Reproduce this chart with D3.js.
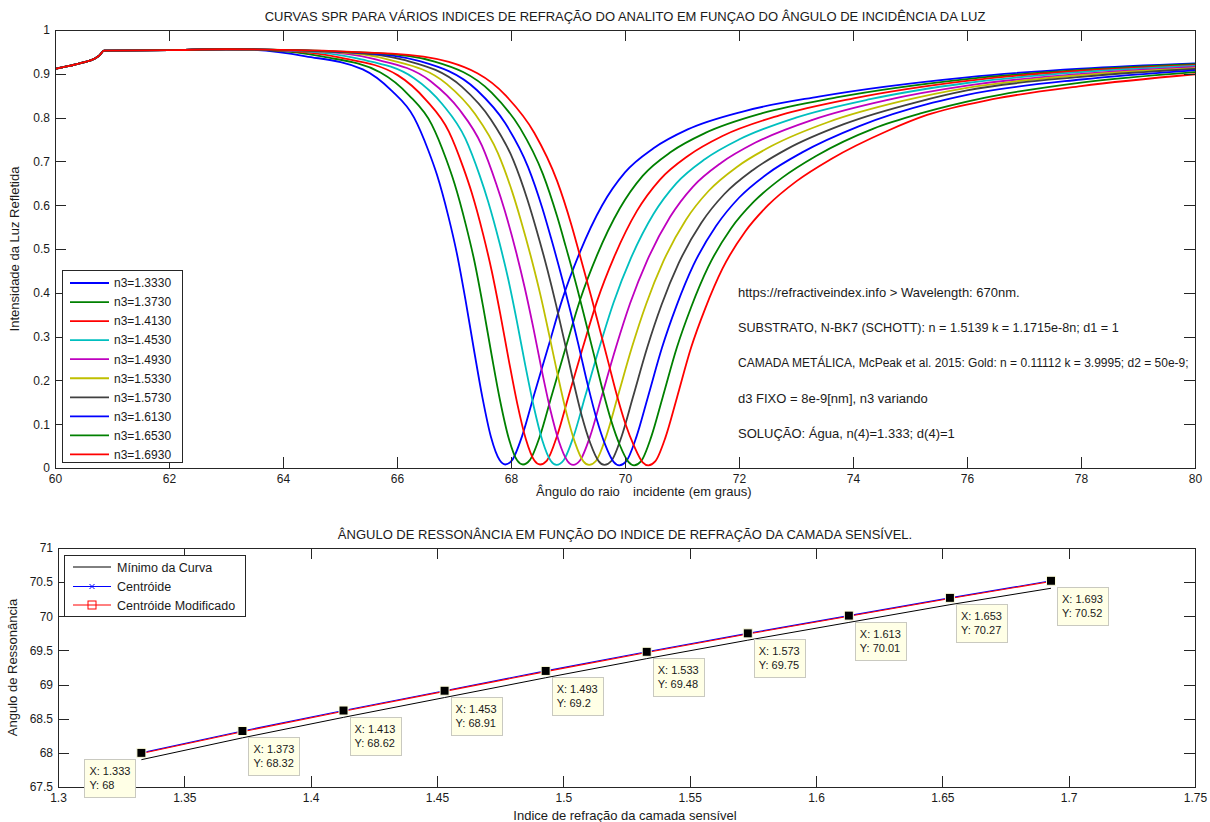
<!DOCTYPE html>
<html><head><meta charset="utf-8">
<script src="https://cdn.jsdelivr.net/npm/d3@7"></script>
<style>
html,body{margin:0;padding:0;background:#fff;}
svg{display:block;font-family:"Liberation Sans",Arial,Helvetica,sans-serif;}
text{fill:#1a1a1a;}
</style></head>
<body>
<svg id="chart" width="1210" height="822"></svg>
<script>
// ---------------- DATA ----------------
const n3Labels = ["n3=1.3330","n3=1.3730","n3=1.4130","n3=1.4530","n3=1.4930","n3=1.5330","n3=1.5730","n3=1.6130","n3=1.6530","n3=1.6930"];
const curveColors = ["#0000ff","#008000","#ff0000","#00bfbf","#bf00bf","#bfbf00","#404040","#0000ff","#008000","#ff0000"];

const xTicksTop = [60,62,64,66,68,70,72,74,76,78,80];
const yTicksTop = [0,0.1,0.2,0.3,0.4,0.5,0.6,0.7,0.8,0.9,1];

// shared start of every curve (below / at the critical angle)
const plateauAngles = [60, 60.25, 60.5, 60.7, 60.78, 60.86, 62, 63];
const plateauRefl   = [0.911, 0.918, 0.926, 0.935, 0.942, 0.953, 0.954, 0.956];

const angles1333 = [63.4,64.4,65.4,65.9,66.3,66.55,66.7,66.9,67.05,67.2,67.35,67.5,67.65,67.8,67.9,68.02,68.2,68.4,68.65,68.9,69.2,69.6,70.0,70.5,71.1,72.1,73.4,76,78,80];
const refl1333   = [.955,.940,.910,.862,.800,.725,.670,.575,.490,.385,.270,.160,.070,.018,.008,.018,.075,.165,.275,.385,.490,.600,.675,.730,.773,.815,.848,.892,.912,.924];
const angles1373 = [63.71,64.71,65.71,66.21,66.61,66.86,67.01,67.21,67.36,67.51,67.66,67.81,67.96,68.11,68.21,68.33,68.51,68.71,68.96,69.21,69.51,69.91,70.31,70.81,71.41,72.41,73.71,76,78,80];
const refl1373   = [.954,.939,.903,.851,.784,.706,.649,.554,.471,.369,.258,.153,.068,.017,.008,.018,.074,.164,.275,.383,.486,.593,.667,.722,.765,.810,.846,.888,.909,.922];
const angles1413 = [64.01,65.01,66.01,66.51,66.91,67.16,67.31,67.51,67.66,67.81,67.96,68.11,68.26,68.41,68.51,68.63,68.81,69.01,69.26,69.51,69.81,70.21,70.61,71.11,71.71,72.71,74.01,76,78,80];
const refl1413   = [.953,.937,.897,.840,.768,.687,.629,.534,.451,.353,.247,.147,.066,.017,.008,.017,.074,.164,.275,.381,.482,.587,.658,.713,.758,.805,.844,.884,.907,.920];
const angles1453 = [64.3,65.3,66.3,66.8,67.2,67.45,67.6,67.8,67.95,68.1,68.25,68.4,68.55,68.7,68.8,68.92,69.1,69.3,69.55,69.8,70.1,70.5,70.9,71.4,72.0,73.0,74.3,76,78,80];
const refl1453   = [.952,.935,.890,.830,.752,.668,.608,.513,.432,.337,.235,.140,.063,.016,.007,.017,.073,.163,.275,.378,.478,.580,.650,.705,.750,.800,.842,.879,.904,.918];
const angles1493 = [64.59,65.59,66.59,67.09,67.49,67.74,67.89,68.09,68.24,68.39,68.54,68.69,68.84,68.99,69.09,69.21,69.39,69.59,69.84,70.09,70.39,70.79,71.19,71.69,72.29,73.29,74.59,76,78,80];
const refl1493   = [.951,.934,.883,.819,.736,.649,.588,.493,.412,.321,.223,.133,.061,.016,.007,.017,.073,.163,.275,.376,.474,.573,.642,.697,.743,.795,.840,.873,.900,.916];
const angles1533 = [64.87,65.87,66.87,67.37,67.77,68.02,68.17,68.37,68.52,68.67,68.82,68.97,69.12,69.27,69.37,69.49,69.67,69.87,70.12,70.37,70.67,71.07,71.47,71.97,72.57,73.57,74.87,76,78,80];
const refl1533   = [.950,.932,.877,.808,.719,.631,.567,.472,.393,.304,.212,.127,.059,.015,.007,.016,.072,.162,.275,.374,.471,.567,.633,.688,.735,.790,.838,.868,.897,.913];
const angles1573 = [65.14,66.14,67.14,67.64,68.04,68.29,68.44,68.64,68.79,68.94,69.09,69.24,69.39,69.54,69.64,69.76,69.94,70.14,70.39,70.64,70.94,71.34,71.74,72.24,72.84,73.84,75.14,76,78,80];
const refl1573   = [.949,.931,.870,.797,.703,.612,.547,.452,.373,.288,.200,.120,.057,.015,.007,.016,.072,.162,.275,.372,.467,.560,.625,.680,.728,.785,.836,.862,.893,.911];
const angles1613 = [65.4,66.4,67.4,67.9,68.3,68.55,68.7,68.9,69.05,69.2,69.35,69.5,69.65,69.8,69.9,70.02,70.2,70.4,70.65,70.9,71.2,71.6,72.0,72.5,73.1,74.1,75.4,76,78,80];
const refl1613   = [.948,.929,.863,.787,.687,.593,.526,.431,.354,.272,.188,.113,.054,.014,.006,.015,.071,.161,.275,.369,.463,.553,.617,.672,.720,.780,.834,.852,.887,.908];
const angles1653 = [65.66,66.66,67.66,68.16,68.56,68.81,68.96,69.16,69.31,69.46,69.61,69.76,69.91,70.06,70.16,70.28,70.46,70.66,70.91,71.16,71.46,71.86,72.26,72.76,73.36,74.36,75.2,76.3,78,80];
const refl1653   = [.947,.928,.857,.776,.671,.574,.506,.411,.334,.256,.177,.107,.052,.014,.006,.015,.071,.161,.275,.367,.459,.547,.608,.663,.713,.775,.810,.845,.880,.904];
const angles1693 = [65.91,66.91,67.91,68.41,68.81,69.06,69.21,69.41,69.56,69.71,69.86,70.01,70.16,70.31,70.41,70.53,70.71,70.91,71.16,71.41,71.71,72.11,72.51,73.01,73.61,74.61,75.3,76.45,78,80];
const refl1693   = [.946,.927,.850,.765,.655,.555,.485,.390,.315,.240,.165,.100,.050,.013,.006,.015,.070,.160,.275,.365,.455,.540,.600,.655,.705,.770,.806,.842,.872,.899];

const annotations = [
  "https://refractiveindex.info > Wavelength: 670nm.",
  "SUBSTRATO, N-BK7 (SCHOTT): n = 1.5139 k = 1.1715e-8n; d1 = 1",
  "CAMADA METÁLICA, McPeak et al. 2015: Gold: n = 0.11112 k = 3.9995; d2 = 50e-9;",
  "d3 FIXO = 8e-9[nm], n3 variando",
  "SOLUÇÃO: Água, n(4)=1.333; d(4)=1"
];

// bottom chart
const n3Index = [1.333,1.373,1.413,1.453,1.493,1.533,1.573,1.613,1.653,1.693];
const minimumAngle = [67.9,68.22,68.52,68.81,69.1,69.38,69.65,69.91,70.17,70.41];
const centroidAngle = [68.0,68.32,68.62,68.91,69.2,69.48,69.75,70.01,70.27,70.52];
const modifiedCentroidAngle = [67.99,68.31,68.61,68.9,69.19,69.47,69.74,70.0,70.26,70.51];
const tipYLabels = ["68","68.32","68.62","68.91","69.2","69.48","69.75","70.01","70.27","70.52"];
const xTicksBottom = [1.3,1.35,1.4,1.45,1.5,1.55,1.6,1.65,1.7,1.75];
const yTicksBottom = [67.5,68,68.5,69,69.5,70,70.5,71];
const bottomLegend = ["Mínimo da Curva","Centróide","Centróide Modificado"];

// ---------------- DRAW ----------------
const svg = d3.select("#chart");
const AX = "#262626";
const FONT = 12;

const curveAngles = [angles1333,angles1373,angles1413,angles1453,angles1493,angles1533,angles1573,angles1613,angles1653,angles1693];
const curveRefl = [refl1333,refl1373,refl1413,refl1453,refl1493,refl1533,refl1573,refl1613,refl1653,refl1693];
const series = curveAngles.map((a,i)=>{
  const pts = plateauAngles.map((x,j)=>[x, plateauRefl[j]]);
  a.forEach((x,j)=>pts.push([x, curveRefl[i][j]]));
  return {label:n3Labels[i], color:curveColors[i], pts};
});

function box(g, x0, x1, y0, y1){
  g.append("rect").attr("x",x0).attr("y",y0).attr("width",x1-x0).attr("height",y1-y0)
   .attr("fill","none").attr("stroke",AX).attr("stroke-width",1).attr("shape-rendering","crispEdges");
}
function axes(g, x, y, xt, yt, xfmt, yfmt, L, R, T, B){
  const tk = 11;
  const ax = g.append("g").attr("transform",`translate(0,${B})`)
    .call(d3.axisBottom(x).tickValues(xt).tickSize(-tk).tickPadding(6).tickFormat(xfmt));
  const at = g.append("g").attr("transform",`translate(0,${T})`)
    .call(d3.axisTop(x).tickValues(xt).tickSize(-tk).tickFormat(""));
  const al = g.append("g").attr("transform",`translate(${L},0)`)
    .call(d3.axisLeft(y).tickValues(yt).tickSize(-tk).tickPadding(5).tickFormat(yfmt));
  const ar = g.append("g").attr("transform",`translate(${R},0)`)
    .call(d3.axisRight(y).tickValues(yt).tickSize(-tk).tickFormat(""));
  [ax,at,al,ar].forEach(a=>{
    a.select(".domain").remove();
    a.selectAll("line").attr("stroke",AX).attr("shape-rendering","crispEdges");
    a.selectAll("text").attr("font-size",FONT).attr("font-family","Liberation Sans, Arial, sans-serif").attr("fill","#1a1a1a");
  });
  box(g, L, R, T, B);
}

// ---- top chart ----
const T1 = {L:55, R:1195, T:30, B:468};
const x1 = d3.scaleLinear().domain([60,80]).range([T1.L,T1.R]);
const y1 = d3.scaleLinear().domain([0,1]).range([T1.B,T1.T]);
const gTop = svg.append("g");

svg.append("clipPath").attr("id","clipTop").append("rect")
  .attr("x",T1.L).attr("y",T1.T).attr("width",T1.R-T1.L).attr("height",T1.B-T1.T);
const line1 = d3.line().x(d=>x1(d[0])).y(d=>y1(d[1])).curve(d3.curveMonotoneX);
gTop.append("g").attr("clip-path","url(#clipTop)").selectAll("path").data(series).join("path")
  .attr("d",d=>line1(d.pts)).attr("fill","none").attr("stroke",d=>d.color).attr("stroke-width",1.8);

axes(gTop, x1, y1, xTicksTop, yTicksTop, d3.format("d"), d=>String(+d.toFixed(1)), T1.L, T1.R, T1.T, T1.B);

gTop.append("text").attr("x",625).attr("y",21).attr("text-anchor","middle").attr("font-size",13)
  .text("CURVAS SPR PARA VÁRIOS INDICES DE REFRAÇÃO DO ANALITO EM FUNÇAO DO ÂNGULO DE INCIDÊNCIA DA LUZ");
const xl = gTop.append("text").attr("y",496).attr("font-size",13);
xl.append("tspan").attr("x",536).text("Ângulo do raio");
xl.append("tspan").attr("x",633).text("incidente (em graus)");
gTop.append("text").attr("transform",`translate(19,${(T1.T+T1.B)/2}) rotate(-90)`).attr("text-anchor","middle").attr("font-size",13)
  .text("Intensidade da Luz Refletida");

// legend top
const lg = gTop.append("g");
lg.append("rect").attr("x",62).attr("y",270).attr("width",120).attr("height",192).attr("fill","#fff")
  .attr("stroke",AX).attr("shape-rendering","crispEdges");
series.forEach((s,i)=>{
  const yy = 283 + i*19.05;
  lg.append("line").attr("x1",70).attr("x2",109).attr("y1",yy).attr("y2",yy).attr("stroke",s.color).attr("stroke-width",1.8);
  lg.append("text").attr("x",114).attr("y",yy+4.3).attr("font-size",12).text(s.label);
});

// annotations
const annY = [292,327,362,398,433];
const annSize = [13,12.6,12,13,13];
annotations.forEach((t,i)=>{
  gTop.append("text").attr("x",738).attr("y",annY[i]+4.5).attr("font-size", annSize[i]).text(t);
});

// ---- bottom chart ----
const T2 = {L:58, R:1195, T:548, B:787};
const x2 = d3.scaleLinear().domain([1.3,1.75]).range([T2.L,T2.R]);
const y2 = d3.scaleLinear().domain([67.5,71]).range([T2.B,T2.T]);
const gBot = svg.append("g");

const line2 = d3.line().x(d=>x2(d[0])).y(d=>y2(d[1]));
const minPts = n3Index.map((v,i)=>[v,minimumAngle[i]]);
const cenPts = n3Index.map((v,i)=>[v,centroidAngle[i]]);
const modPts = n3Index.map((v,i)=>[v,modifiedCentroidAngle[i]]);
gBot.append("path").attr("d",line2(minPts)).attr("fill","none").attr("stroke","#000").attr("stroke-width",1);
gBot.append("path").attr("d",line2(cenPts)).attr("fill","none").attr("stroke","#0000ff").attr("stroke-width",1.1);
gBot.append("path").attr("d",line2(modPts)).attr("fill","none").attr("stroke","#ff0000").attr("stroke-width",1.1);

axes(gBot, x2, y2, xTicksBottom, yTicksBottom, d=>String(+d.toFixed(2)), d=>String(+d.toFixed(1)), T2.L, T2.R, T2.T, T2.B);

gBot.append("text").attr("x",625).attr("y",539).attr("text-anchor","middle").attr("font-size",13)
  .text("ÂNGULO DE RESSONÂNCIA EM FUNÇÃO DO INDICE DE REFRAÇÃO DA CAMADA SENSÍVEL.");
gBot.append("text").attr("x",625).attr("y",820).attr("text-anchor","middle").attr("font-size",13)
  .text("Indice de refração da camada sensível");
gBot.append("text").attr("transform",`translate(17,${(T2.T+T2.B)/2}) rotate(-90)`).attr("text-anchor","middle").attr("font-size",13)
  .text("Angulo de Ressonância");

// datatips
const tips = gBot.append("g");
n3Index.forEach((v,i)=>{
  const px = x2(v), py = y2(centroidAngle[i]);
  const g = tips.append("g");
  const t1 = g.append("text").attr("font-size",11).text("X: " + v);
  const t2 = g.append("text").attr("font-size",11).text("Y: " + tipYLabels[i]);
  const w = Math.max(t1.node().getComputedTextLength(), t2.node().getComputedTextLength()) + 10;
  const h = 38;
  const bx = i===0 ? px - 6 - w : px + 6;
  const by = py + 6;
  g.insert("rect","text").attr("x",Math.round(bx)+0.5).attr("y",Math.round(by)+0.5).attr("width",Math.round(w)).attr("height",h)
    .attr("fill","#ffffe6").attr("stroke","#c9c9c0").attr("stroke-width",1);
  t1.attr("x",bx+5).attr("y",by+16);
  t2.attr("x",bx+5).attr("y",by+30);
  g.append("rect").attr("x",px-4.5).attr("y",py-4.5).attr("width",9).attr("height",9)
    .attr("fill","#000").attr("stroke","#ffffe0").attr("stroke-width",1);
});

// legend bottom
const lb = gBot.append("g");
lb.append("rect").attr("x",64).attr("y",555).attr("width",181).attr("height",61).attr("fill","#fff")
  .attr("stroke",AX).attr("shape-rendering","crispEdges");
const lbY = [567,586.5,605];
const lbCol = ["#000","#0000ff","#ff0000"];
bottomLegend.forEach((t,i)=>{
  lb.append("line").attr("x1",73).attr("x2",111).attr("y1",lbY[i]).attr("y2",lbY[i]).attr("stroke",lbCol[i]).attr("stroke-width",1);
  lb.append("text").attr("x",117).attr("y",lbY[i]+4.5).attr("font-size",12.5).text(t);
});
lb.append("path").attr("d",`M${92-2.5},${lbY[1]-2.5}L${92+2.5},${lbY[1]+2.5}M${92-2.5},${lbY[1]+2.5}L${92+2.5},${lbY[1]-2.5}`)
  .attr("stroke","#0000ff").attr("stroke-width",1);
lb.append("rect").attr("x",88).attr("y",lbY[2]-4).attr("width",8).attr("height",8).attr("fill","none").attr("stroke","#ff0000").attr("stroke-width",1);
</script>
</body></html>
